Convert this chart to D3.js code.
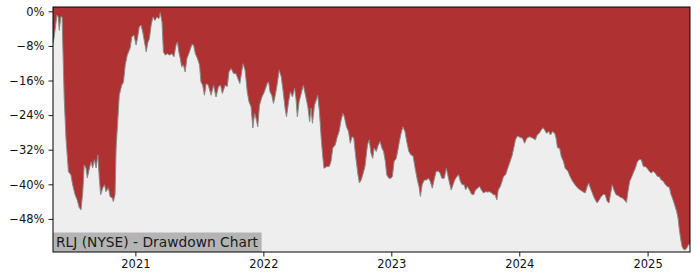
<!DOCTYPE html>
<html>
<head>
<meta charset="utf-8">
<script src="https://cdn.jsdelivr.net/npm/d3@7/dist/d3.min.js"></script>
<style>
  html, body { margin: 0; padding: 0; background: #ffffff; }
  svg { display: block; }
</style>
</head>
<body>
<svg id="chart" width="700" height="280"></svg>
<script>
const title = "RLJ (NYSE) - Drawdown Chart";

const dates = [
"2020-05-11","2020-05-14","2020-05-22","2020-05-26","2020-05-29","2020-06-02","2020-06-06","2020-06-08","2020-06-12","2020-06-17",
"2020-06-24","2020-07-01","2020-07-06","2020-07-13","2020-07-19","2020-07-25","2020-07-30","2020-08-04","2020-08-08","2020-08-13",
"2020-08-17","2020-08-23","2020-08-28","2020-09-01","2020-09-06","2020-09-11","2020-09-16","2020-09-20","2020-09-24","2020-09-30",
"2020-10-05","2020-10-09","2020-10-16","2020-10-21","2020-10-27","2020-10-30","2020-11-04","2020-11-07","2020-11-11","2020-11-16",
"2020-11-23","2020-11-28","2020-12-03","2020-12-09","2020-12-17","2020-12-22","2020-12-28","2021-01-03","2021-01-07","2021-01-12",
"2021-01-17","2021-01-22","2021-01-27","2021-02-01","2021-02-05","2021-02-10","2021-02-15","2021-02-20","2021-02-26","2021-03-03",
"2021-03-09","2021-03-13","2021-03-18","2021-03-22","2021-03-27","2021-04-02","2021-04-08","2021-04-15","2021-04-21","2021-04-27",
"2021-05-01","2021-05-05","2021-05-09","2021-05-13","2021-05-18","2021-05-23","2021-05-28","2021-06-04","2021-06-11","2021-06-16",
"2021-06-21","2021-06-27","2021-07-03","2021-07-07","2021-07-12","2021-07-17","2021-07-22","2021-07-28","2021-08-05","2021-08-12",
"2021-08-19","2021-08-26","2021-09-01","2021-09-06","2021-09-14","2021-09-20","2021-09-25","2021-10-01","2021-10-08","2021-10-15",
"2021-10-20","2021-10-26","2021-11-01","2021-11-04","2021-11-10","2021-11-16","2021-11-21","2021-11-27","2021-12-02","2021-12-07",
"2021-12-11","2021-12-16","2021-12-21","2021-12-28","2022-01-04","2022-01-12","2022-01-16","2022-01-20","2022-01-25","2022-01-30",
"2022-02-04","2022-02-09","2022-02-15","2022-02-21","2022-02-26","2022-03-04","2022-03-08","2022-03-14","2022-03-19","2022-03-25",
"2022-03-31","2022-04-04","2022-04-08","2022-04-13","2022-04-19","2022-04-25","2022-04-28","2022-05-03","2022-05-08","2022-05-13",
"2022-05-17","2022-05-21","2022-05-27","2022-06-01","2022-06-05","2022-06-10","2022-06-15","2022-06-19","2022-06-23","2022-07-01",
"2022-07-08","2022-07-13","2022-07-18","2022-07-25","2022-07-31","2022-08-05","2022-08-11","2022-08-16","2022-08-20","2022-08-26",
"2022-09-01","2022-09-06","2022-09-11","2022-09-16","2022-09-22","2022-09-28","2022-10-02","2022-10-07","2022-10-13","2022-10-18",
"2022-10-25","2022-10-30","2022-11-04","2022-11-09","2022-11-13","2022-11-19","2022-11-25","2022-11-30","2022-12-05","2022-12-10",
"2022-12-15","2022-12-19","2022-12-25","2022-12-31","2023-01-04","2023-01-09","2023-01-15","2023-01-19","2023-01-24","2023-01-29",
"2023-02-03","2023-02-09","2023-02-14","2023-02-20","2023-02-26","2023-03-04","2023-03-10","2023-03-17","2023-03-21","2023-03-25",
"2023-03-30","2023-04-05","2023-04-11","2023-04-17","2023-04-22","2023-04-28","2023-05-03","2023-05-09","2023-05-16","2023-05-20",
"2023-05-25","2023-06-01","2023-06-07","2023-06-11","2023-06-16","2023-06-21","2023-06-26","2023-07-01","2023-07-07","2023-07-12",
"2023-07-17","2023-07-22","2023-07-28","2023-08-01","2023-08-06","2023-08-12","2023-08-18","2023-08-24","2023-08-29","2023-09-04",
"2023-09-10","2023-09-15","2023-09-21","2023-09-27","2023-10-02","2023-10-08","2023-10-14","2023-10-19","2023-10-24","2023-10-29",
"2023-11-02","2023-11-08","2023-11-13","2023-11-17","2023-11-23","2023-11-29","2023-12-06","2023-12-12","2023-12-17","2023-12-21",
"2023-12-27","2024-01-04","2024-01-10","2024-01-16","2024-01-23","2024-01-30","2024-02-08","2024-02-16","2024-02-21","2024-02-27",
"2024-03-04","2024-03-09","2024-03-13","2024-03-19","2024-03-25","2024-03-30","2024-04-05","2024-04-11","2024-04-15","2024-04-19",
"2024-04-25","2024-04-30","2024-05-06","2024-05-11","2024-05-19","2024-05-25","2024-06-01","2024-06-08","2024-06-16","2024-06-23",
"2024-06-30","2024-07-07","2024-07-13","2024-07-17","2024-07-22","2024-07-26","2024-07-31","2024-08-05","2024-08-10","2024-08-16",
"2024-08-22","2024-08-28","2024-09-02","2024-09-08","2024-09-13","2024-09-17","2024-09-22","2024-09-27","2024-10-03","2024-10-09",
"2024-10-15","2024-10-22","2024-10-27","2024-11-02","2024-11-06","2024-11-11","2024-11-15","2024-11-21","2024-11-27","2024-12-03",
"2024-12-08","2024-12-14","2024-12-20","2024-12-25","2024-12-31","2025-01-06","2025-01-11","2025-01-17","2025-01-23","2025-01-29",
"2025-02-03","2025-02-09","2025-02-15","2025-02-21","2025-02-26","2025-03-04","2025-03-09","2025-03-13","2025-03-19","2025-03-25",
"2025-03-29","2025-04-01","2025-04-05","2025-04-09","2025-04-14","2025-04-19","2025-04-23","2025-04-28","2025-05-02"
];

const drawdown = [
-7.4,-6.2,-0.9,-1.3,-4.4,-1.3,-1.3,-7.8,-20.1,-29.3,
-37.1,-37.8,-40.1,-42.4,-43.6,-45.4,-45.9,-41.7,-35.5,-36.2,
-38.5,-36.2,-34.8,-36.2,-34.3,-36.2,-33.2,-38.5,-42.4,-40.8,
-40.1,-41.7,-40.8,-42.9,-43.1,-44.0,-42.4,-31.6,-26.3,-19.4,
-17.1,-16.4,-12.4,-10.1,-8.5,-5.9,-5.5,-7.8,-6.2,-3.6,
-3.2,-4.8,-7.1,-9.4,-7.4,-6.3,-3.2,-1.3,-2.1,-1.3,
-1.7,-0.3,-2.5,-9.4,-10.1,-9.8,-10.1,-9.8,-10.5,-7.8,
-7.1,-9.4,-10.9,-12.8,-12.4,-14.0,-10.9,-9.4,-7.7,-7.8,
-9.8,-10.9,-12.4,-16.3,-17.1,-19.4,-16.7,-17.1,-19.4,-17.1,
-19.8,-17.4,-17.1,-19.0,-17.1,-17.4,-14.0,-13.2,-14.4,-14.4,
-15.5,-16.7,-13.6,-12.1,-13.6,-18.6,-20.9,-22.1,-27.0,-23.6,
-24.7,-26.7,-21.7,-19.8,-18.6,-16.7,-16.3,-18.6,-19.4,-21.3,
-19.4,-17.1,-13.6,-15.1,-18.2,-22.4,-24.4,-20.9,-18.6,-19.8,
-17.8,-20.1,-24.4,-20.9,-19.0,-17.1,-18.2,-20.1,-22.1,-25.5,
-22.4,-25.9,-21.7,-20.5,-19.4,-23.2,-29.3,-33.2,-36.3,-35.9,
-35.9,-34.7,-31.6,-30.9,-29.0,-27.8,-25.1,-23.6,-24.4,-26.7,
-27.8,-30.5,-29.0,-29.3,-34.0,-37.8,-39.7,-39.0,-37.4,-35.8,
-30.9,-29.7,-32.8,-34.0,-31.6,-32.4,-30.9,-30.1,-31.6,-32.4,
-34.7,-37.8,-38.6,-38.6,-38.2,-34.7,-34.0,-32.4,-30.1,-28.2,
-26.7,-27.8,-30.1,-32.4,-33.2,-33.4,-36.3,-39.3,-40.5,-42.8,
-40.1,-39.0,-39.0,-38.6,-39.3,-40.9,-39.0,-37.0,-37.0,-37.4,
-38.6,-38.6,-36.3,-37.8,-39.7,-41.3,-40.1,-39.0,-38.2,-37.8,
-39.3,-40.1,-40.1,-41.3,-40.5,-41.3,-42.3,-42.4,-41.3,-40.9,
-40.5,-41.3,-42.0,-41.7,-41.8,-41.7,-42.0,-42.4,-42.4,-43.6,
-41.3,-40.5,-39.3,-38.2,-37.8,-36.3,-34.7,-33.2,-31.3,-29.7,
-28.8,-29.2,-29.3,-30.5,-29.3,-29.0,-29.3,-29.7,-28.6,-28.2,
-27.4,-26.9,-27.4,-28.2,-27.8,-28.6,-27.8,-28.2,-29.3,-31.6,
-31.6,-33.6,-34.7,-36.3,-37.0,-38.2,-39.3,-40.1,-40.9,-41.3,
-41.7,-42.0,-40.5,-39.7,-40.9,-41.7,-42.8,-43.6,-44.3,-43.6,
-42.8,-42.3,-42.4,-44.0,-44.3,-42.4,-40.1,-41.3,-42.4,-42.6,
-43.0,-43.2,-43.6,-44.2,-41.7,-39.3,-38.6,-37.4,-36.3,-34.7,
-34.3,-34.3,-35.9,-35.9,-36.3,-37.0,-37.4,-37.0,-37.4,-38.2,
-38.2,-39.0,-39.3,-40.1,-40.5,-40.7,-42.4,-43.2,-44.7,-46.3,
-47.8,-50.1,-52.4,-54.3,-55.1,-55.1,-54.7,-53.9,-53.9
];

const yTicks = [0, -8, -16, -24, -32, -40, -48];
const xTickYears = [2021, 2022, 2023, 2024, 2025];

const parse = d3.timeParse("%Y-%m-%d");
const data = dates.map((d, i) => ({ date: parse(d), v: drawdown[i] }));

const svg = d3.select("#chart");
const margin = { left: 53, top: 7, right: 10, bottom: 28 };
const W = 700, H = 280;

const x = d3.scaleTime()
  .domain(d3.extent(data, d => d.date))
  .range([margin.left, W - margin.right]);

const minV = d3.min(data, d => d.v);
const y = d3.scaleLinear()
  .domain([minV * 1.01, 1])
  .range([H - margin.bottom, margin.top]);

// plot background
svg.append("rect")
  .attr("x", margin.left).attr("y", margin.top)
  .attr("width", W - margin.left - margin.right)
  .attr("height", H - margin.top - margin.bottom)
  .attr("fill", "#eeeeee");

const clip = svg.append("clipPath").attr("id", "clip")
  .append("rect")
  .attr("x", margin.left).attr("y", margin.top)
  .attr("width", W - margin.left - margin.right)
  .attr("height", H - margin.top - margin.bottom);

const g = svg.append("g").attr("clip-path", "url(#clip)");

const area = d3.area()
  .x(d => x(d.date))
  .y0(y(1))
  .y1(d => y(d.v));

g.append("path")
  .datum(data)
  .attr("d", area)
  .attr("fill", "#b03131");

const line = d3.line()
  .x(d => x(d.date))
  .y(d => y(d.v));

g.append("path")
  .datum(data)
  .attr("d", line)
  .attr("fill", "none")
  .attr("stroke", "#8a8a8a")
  .attr("stroke-width", 1);

// label box
const labelG = svg.append("g");
const labelText = labelG.append("text")
  .attr("x", margin.left + 3)
  .attr("y", H - margin.bottom - 5)
  .attr("font-family", "DejaVu Sans")
  .attr("font-size", "13.8px")
  .attr("fill", "#1a1a1a")
  .text(title);
const bb = labelText.node().getBBox();
labelG.insert("rect", "text")
  .attr("x", margin.left)
  .attr("y", H - margin.bottom - 19.5)
  .attr("width", bb.width + 6)
  .attr("height", 19.5)
  .attr("fill", "#b4b4b4");

// axes
const fmtPct = v => (v < 0 ? "\u2212" + Math.abs(v) : String(v)) + "%";

const yAxis = d3.axisLeft(y)
  .tickValues(yTicks)
  .tickFormat(fmtPct)
  .tickSize(4.5)
  .tickPadding(4);

const xAxis = d3.axisBottom(x)
  .tickValues(xTickYears.map(yr => new Date(yr, 0, 1)))
  .tickFormat(d3.timeFormat("%Y"))
  .tickSize(4.5)
  .tickPadding(3);

const ya = svg.append("g")
  .attr("transform", `translate(${margin.left},0)`)
  .call(yAxis);
const xa = svg.append("g")
  .attr("transform", `translate(0,${H - margin.bottom})`)
  .call(xAxis);

[ya, xa].forEach(a => {
  a.select(".domain").remove();
  a.selectAll("text")
    .attr("font-family", "DejaVu Sans")
    .attr("font-size", "11.5px")
    .attr("fill", "#111");
  a.selectAll("line").attr("stroke", "#000").attr("stroke-width", 0.9);
});

// frame
svg.append("rect")
  .attr("x", margin.left).attr("y", margin.top)
  .attr("width", W - margin.left - margin.right)
  .attr("height", H - margin.top - margin.bottom)
  .attr("fill", "none")
  .attr("stroke", "#000")
  .attr("stroke-width", 1);
</script>
</body>
</html>
